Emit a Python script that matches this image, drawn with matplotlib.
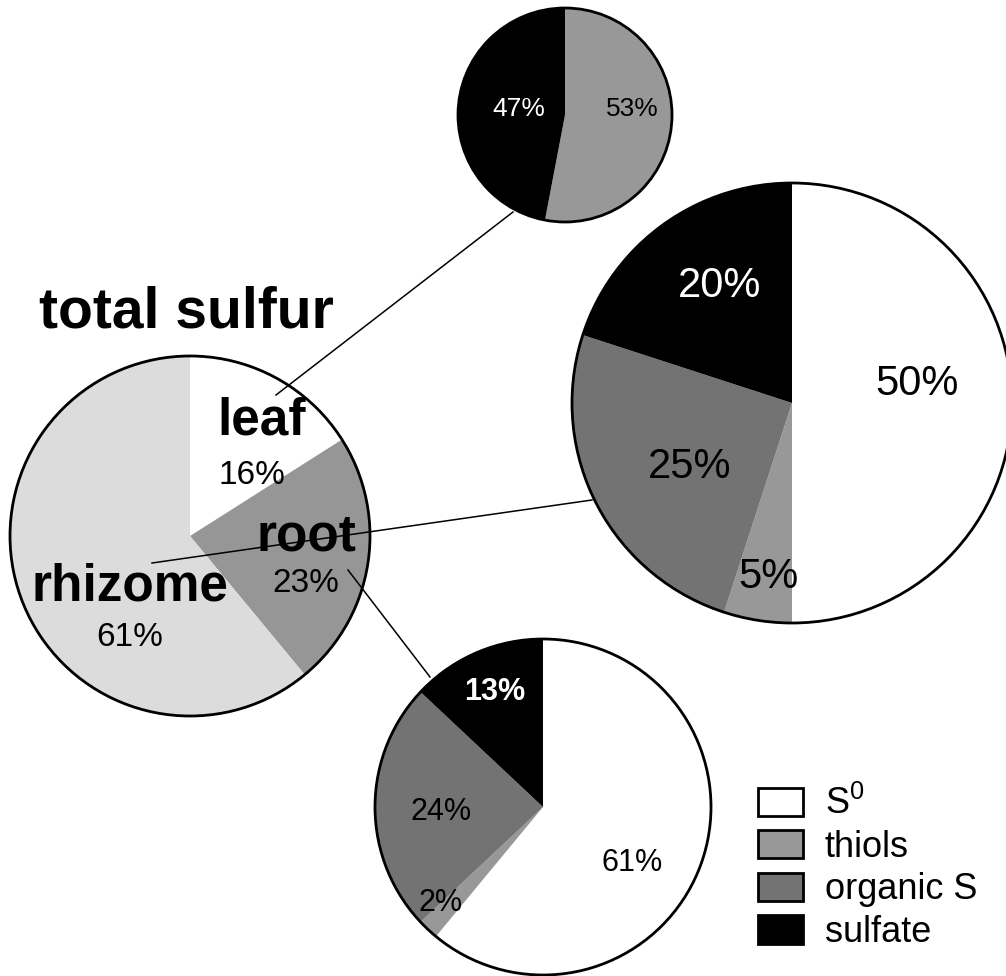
import matplotlib.pyplot as plt
from matplotlib.patches import Circle, Patch

plt.rcParams['font.family'] = ['Liberation Sans', 'DejaVu Sans']
plt.rcParams['mathtext.default'] = 'regular'

# data
fractions = ['S$^{0}$', 'thiols', 'organic S', 'sulfate']
fraction_colors = ['#ffffff', '#989898', '#737373', '#000000']

organs = ['leaf', 'root', 'rhizome']
organ_share = [16, 23, 61]
organ_colors = ['#ffffff', '#969696', '#dcdcdc']

leaf_vals = [0, 53, 0, 47]
rhizome_vals = [50, 5, 25, 20]
root_vals = [61, 2, 24, 13]

W, H = 1006, 976


def P(x, y):
    # picture pixel -> data coords (y up)
    return (x, H - y)


fig = plt.figure(figsize=(W / 100, H / 100), dpi=100)
ax = fig.add_axes([0, 0, 1, 1])


def draw_pie(vals, colors, cx, cy, r, lw=2.0):
    v = [a for a in vals if a > 0]
    c = [colors[i] for i, a in enumerate(vals) if a > 0]
    ax.pie(v, colors=c, startangle=90, counterclock=False,
           center=P(cx, cy), radius=r, wedgeprops=dict(linewidth=0))
    ax.add_patch(Circle(P(cx, cy), r, fill=False, ec='black', lw=lw, zorder=3))


# connector lines
ax.plot(*zip(P(276, 395), P(513, 212)), color='black', lw=1.1, zorder=4)
ax.plot(*zip(P(152, 563), P(592, 500)), color='black', lw=1.1, zorder=4)
ax.plot(*zip(P(348, 570), P(430, 677)), color='black', lw=1.1, zorder=4)

draw_pie(organ_share, organ_colors, 190, 536, 180)
draw_pie(leaf_vals, fraction_colors, 565, 115, 107)
draw_pie(rhizome_vals, fraction_colors, 792, 403, 220)
draw_pie(root_vals, fraction_colors, 543, 807, 168)

# main pie text
ax.text(*P(186, 312), 'total sulfur', fontsize=41, fontweight='bold',
        ha='center', va='center', zorder=5)
organ_label_pos = [(262, 421, 252, 476), (306, 537, 306, 583), (130, 587, 130, 637)]
for name, val, (nx, ny, px, py) in zip(organs, organ_share, organ_label_pos):
    ax.text(*P(nx, ny), name, fontsize=37, fontweight='bold',
            ha='center', va='center', zorder=5)
    ax.text(*P(px, py), f'{val}%', fontsize=24, ha='center', va='center', zorder=5)


def pct_labels(vals, positions, sizes, colors, weights):
    for v, pos, s, c, w in zip(vals, positions, sizes, colors, weights):
        if v > 0:
            ax.text(*P(*pos), f'{v}%', fontsize=s, color=c, fontweight=w,
                    ha='center', va='center', zorder=5)


pct_labels(leaf_vals, [None, (632, 109), None, (519, 109)],
           [0, 19, 0, 19], ['k', 'k', 'k', 'white'], ['normal'] * 4)
pct_labels(rhizome_vals, [(917, 384), (768, 577), (690, 467), (720, 286)],
           [30, 30, 30, 30], ['k', 'k', 'k', 'white'], ['normal'] * 4)
pct_labels(root_vals, [(632, 863), (441, 903), (441, 812), (495, 692)],
           [22, 22, 22, 22], ['k', 'k', 'k', 'white'],
           ['normal', 'normal', 'normal', 'bold'])

handles = [Patch(facecolor=c, edgecolor='black', linewidth=2) for c in fraction_colors]
ax.legend(handles, fractions, loc='upper left', bbox_to_anchor=(758 / W, 1 - 786 / H),
          bbox_transform=fig.transFigure, frameon=False, fontsize=26,
          handlelength=1.25, handleheight=0.83, handletextpad=0.6,
          labelspacing=0.21, borderpad=0, borderaxespad=0)

ax.set_xlim(0, W)
ax.set_ylim(0, H)
ax.set_aspect('equal')
ax.axis('off')

fig.savefig('out.png', dpi=100)
